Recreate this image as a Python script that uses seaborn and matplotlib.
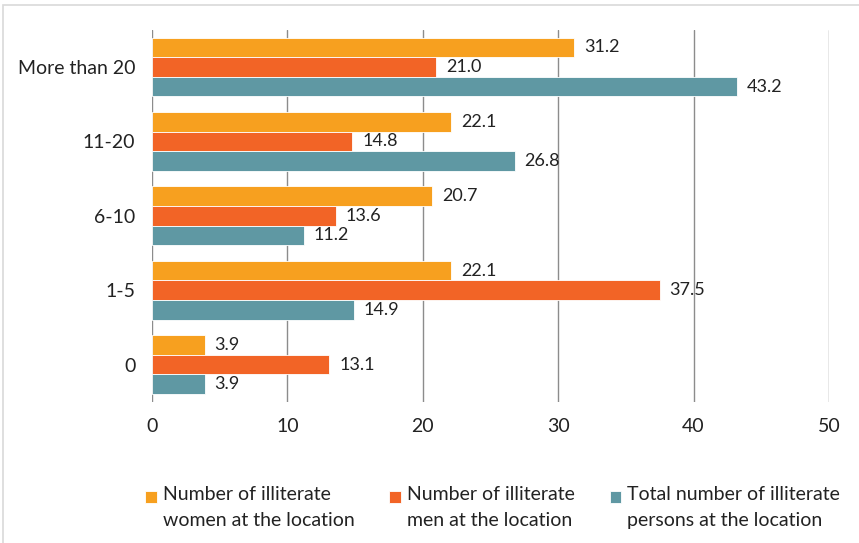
import pandas as pd
import matplotlib.pyplot as plt
import seaborn as sns
from matplotlib.patches import Rectangle
from matplotlib.legend_handler import HandlerPatch

categories = ['More than 20', '11-20', '6-10', '1-5', '0']
women = [31.2, 22.1, 20.7, 22.1, 3.9]
men = [21.0, 14.8, 13.6, 37.5, 13.1]
total = [43.2, 26.8, 11.2, 14.9, 3.9]
series = ['Number of illiterate\nwomen at the location',
          'Number of illiterate\nmen at the location',
          'Total number of illiterate\npersons at the location']
colors = ['#F7A01F', '#F26426', '#5F98A3']

df = pd.DataFrame({'cat': categories * 3,
                   'val': women + men + total,
                   'serie': [series[0]] * 5 + [series[1]] * 5 + [series[2]] * 5})

sns.set_style('white')
plt.rcParams['font.family'] = ['Lato', 'DejaVu Sans']
plt.rcParams['ytick.major.pad'] = 12
plt.rcParams['xtick.major.pad'] = 12


def virsuje(legend, orig_handle, xdescent, ydescent, width, height, fontsize):
    s = 0.6 * fontsize
    return Rectangle((-xdescent, -ydescent + height - s - 2), s, s)


fig = plt.figure(figsize=(8.59, 5.43), dpi=100)
ax = fig.add_axes([0.177, 0.26, 0.788, 0.685])
grafikas = sns.barplot(data=df, x='val', y='cat', hue='serie', order=categories,
                       hue_order=series, palette=colors, saturation=1, orient='h',
                       width=0.79, errorbar=None, edgecolor='white', linewidth=0.6, ax=ax)
for container in grafikas.containers:
    grafikas.bar_label(container, fmt='%.1f', padding=7, fontsize=13, color='#222222')

ax.set_xlim(0, 50)
ax.set_xticks(range(0, 51, 10))
ax.xaxis.grid(True, color='#8c8c8c', linewidth=1)
ax.set_axisbelow(True)
for s in ax.spines.values():
    s.set_visible(False)
ax.set_xlabel('')
ax.set_ylabel('')
ax.tick_params(axis='both', colors='#222222', length=0, labelsize=14)

leg = ax.legend(loc='upper center', bbox_to_anchor=(0.503, -0.18), ncol=3, frameon=False,
                fontsize=14, handlelength=0.6, handleheight=2.8, handletextpad=0.3,
                columnspacing=1.8, labelcolor='#222222',
                handler_map={Rectangle: HandlerPatch(patch_func=virsuje)})
for t in leg.get_texts():
    t.set_linespacing(1.6)

fig.patches.append(Rectangle((0.004, -0.1), 1.2, 1.09, transform=fig.transFigure,
                             fill=False, edgecolor='#d9d9d9', linewidth=1.2))
fig.savefig('out.png', dpi=100)
